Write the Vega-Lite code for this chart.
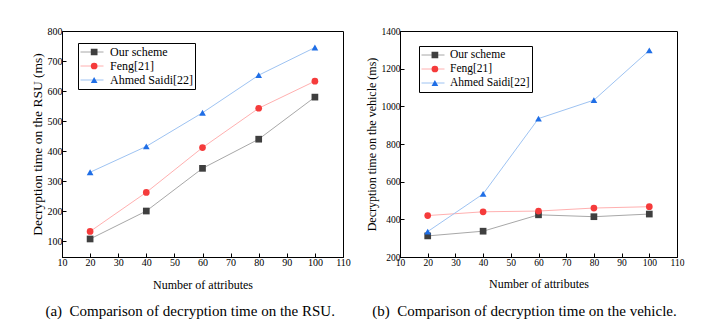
{
  "$schema": "https://vega.github.io/schema/vega-lite/v6.json",
  "background": "white",
  "padding": {"left": 29, "top": 25, "right": 5, "bottom": 5},
  "spacing": 13,
  "config": {
    "font": "Liberation Serif",
    "view": {"stroke": "black", "strokeWidth": 1},
    "axis": {
      "domainColor": "black",
      "tickColor": "black",
      "tickSize": -4,
      "labelColor": "black",
      "titleColor": "black",
      "titleFontWeight": "normal",
      "grid": false,
      "labelFont": "Liberation Serif",
      "titleFont": "Liberation Serif",
      "labelFlush": false,
      "labelOverlap": false,
      "labelPadding": 4,
      "titlePadding": 3
    },
    "legend": {
      "labelFont": "Liberation Serif",
      "labelColor": "black",
      "labelLimit": 0
    },
    "title": {"font": "Liberation Serif", "fontWeight": "normal", "color": "black"}
  },
  "resolve": {
    "scale": {"x": "independent", "y": "independent", "color": "independent", "stroke": "independent", "shape": "independent"},
    "legend": {"color": "independent", "stroke": "independent", "shape": "independent"}
  },
  "datasets": {
    "rsu": [
      {"n": 20, "scheme": "Our scheme", "t": 108},
      {"n": 40, "scheme": "Our scheme", "t": 201},
      {"n": 60, "scheme": "Our scheme", "t": 343},
      {"n": 80, "scheme": "Our scheme", "t": 440},
      {"n": 100, "scheme": "Our scheme", "t": 580},
      {"n": 20, "scheme": "Feng[21]", "t": 133},
      {"n": 40, "scheme": "Feng[21]", "t": 263},
      {"n": 60, "scheme": "Feng[21]", "t": 412},
      {"n": 80, "scheme": "Feng[21]", "t": 543},
      {"n": 100, "scheme": "Feng[21]", "t": 633},
      {"n": 20, "scheme": "Ahmed Saidi[22]", "t": 330},
      {"n": 40, "scheme": "Ahmed Saidi[22]", "t": 416},
      {"n": 60, "scheme": "Ahmed Saidi[22]", "t": 528},
      {"n": 80, "scheme": "Ahmed Saidi[22]", "t": 653},
      {"n": 100, "scheme": "Ahmed Saidi[22]", "t": 745}
    ],
    "veh": [
      {"n": 20, "scheme": "Our scheme", "t": 312},
      {"n": 40, "scheme": "Our scheme", "t": 337},
      {"n": 60, "scheme": "Our scheme", "t": 424},
      {"n": 80, "scheme": "Our scheme", "t": 414},
      {"n": 100, "scheme": "Our scheme", "t": 428},
      {"n": 20, "scheme": "Feng[21]", "t": 420},
      {"n": 40, "scheme": "Feng[21]", "t": 440},
      {"n": 60, "scheme": "Feng[21]", "t": 444},
      {"n": 80, "scheme": "Feng[21]", "t": 460},
      {"n": 100, "scheme": "Feng[21]", "t": 467},
      {"n": 20, "scheme": "Ahmed Saidi[22]", "t": 335},
      {"n": 40, "scheme": "Ahmed Saidi[22]", "t": 535},
      {"n": 60, "scheme": "Ahmed Saidi[22]", "t": 935},
      {"n": 80, "scheme": "Ahmed Saidi[22]", "t": 1033},
      {"n": 100, "scheme": "Ahmed Saidi[22]", "t": 1297}
    ]
  },
  "hconcat": [
    {
      "width": 281,
      "height": 226,
      "title": {"text": "(a)\u00a0 Comparison of decryption time on the RSU.", "orient": "bottom", "anchor": "middle", "frame": "bounds", "fontSize": 15, "offset": 14, "font": "Liberation Serif"},
      "data": {"name": "rsu"},
      "encoding": {
        "x": {"field": "n", "type": "quantitative", "scale": {"domain": [10, 110], "nice": false, "zero": false},
              "axis": {"values": [10, 20, 30, 40, 50, 60, 70, 80, 90, 100, 110], "title": "Number of attributes", "labelFontSize": 10, "titleFontSize": 12, "titlePadding": 12, "labelOverlap": false, "labelFont": "Liberation Serif", "titleFont": "Liberation Serif", "format": "d"}},
        "y": {"field": "t", "type": "quantitative", "scale": {"domain": [48, 800], "nice": false, "zero": false},
              "axis": {"values": [100, 200, 300, 400, 500, 600, 700, 800], "title": "Decryption time on the RSU (ms)", "labelFontSize": 10, "titleFontSize": 13.5, "labelOverlap": false, "labelFont": "Liberation Serif", "titleFont": "Liberation Serif", "format": "d"}}
      },
      "layer": [
        {
          "mark": {"type": "line", "strokeWidth": 1},
          "encoding": {
            "stroke": {"field": "scheme", "type": "nominal", "sort": ["Our scheme", "Feng[21]", "Ahmed Saidi[22]"],
                      "scale": {"range": ["#a8a8a8", "#ffb0b0", "#9ec3f2"]},
                      "legend": {"orient": "none", "legendX": 16, "legendY": 12, "title": null, "symbolType": "stroke", "symbolSize": 529, "symbolStrokeWidth": 1, "labelFontSize": 12, "labelFont": "Liberation Serif", "labelOffset": 6, "padding": 2, "rowPadding": 0, "clipHeight": 14, "strokeColor": "black"}}
          }
        },
        {
          "mark": {"type": "point", "filled": true, "opacity": 1, "size": 45},
          "encoding": {
            "color": {"field": "scheme", "type": "nominal",
                      "scale": {"domain": ["Our scheme", "Feng[21]", "Ahmed Saidi[22]"], "range": ["#3f3f3f", "#f53b3b", "#1f6ee6"]},
                      "legend": {"orient": "top-left", "offset": 12, "title": null, "labelFontSize": 12, "labelFont": "Liberation Serif", "labelOpacity": 0, "labelOffset": 6, "padding": 2, "rowPadding": 0, "clipHeight": 14, "symbolStrokeWidth": 0, "symbolSize": 45, "symbolOffset": 12.15, "symbolOpacity": 1}},
            "shape": {"field": "scheme", "type": "nominal",
                      "scale": {"domain": ["Our scheme", "Feng[21]", "Ahmed Saidi[22]"], "range": ["square", "circle", "triangle-up"]},
                      "legend": {"orient": "top-left", "offset": 12, "title": null, "labelFontSize": 12, "labelFont": "Liberation Serif", "labelOpacity": 0, "labelOffset": 6, "padding": 2, "rowPadding": 0, "clipHeight": 14, "symbolStrokeWidth": 0, "symbolSize": 45, "symbolOffset": 12.15, "symbolOpacity": 1}}
          }
        }
      ]
    },
    {
      "width": 277,
      "height": 226,
      "title": {"text": "(b)\u00a0 Comparison of decryption time on the vehicle.", "orient": "bottom", "anchor": "middle", "frame": "bounds", "fontSize": 15, "offset": 14, "font": "Liberation Serif"},
      "data": {"name": "veh"},
      "encoding": {
        "x": {"field": "n", "type": "quantitative", "scale": {"domain": [10, 110], "nice": false, "zero": false},
              "axis": {"values": [10, 20, 30, 40, 50, 60, 70, 80, 90, 100, 110], "title": "Number of attributes", "labelFontSize": 9.5, "titleFontSize": 12, "titlePadding": 12, "labelOverlap": false, "labelFont": "Liberation Serif", "titleFont": "Liberation Serif", "format": "d"}},
        "y": {"field": "t", "type": "quantitative", "scale": {"domain": [200, 1400], "nice": false, "zero": false},
              "axis": {"values": [200, 400, 600, 800, 1000, 1200, 1400], "title": "Decryption time on the vehicle (ms)", "labelFontSize": 9.5, "titleFontSize": 12, "labelOverlap": false, "labelFont": "Liberation Serif", "titleFont": "Liberation Serif", "format": "d"}}
      },
      "layer": [
        {
          "mark": {"type": "line", "strokeWidth": 1},
          "encoding": {
            "stroke": {"field": "scheme", "type": "nominal", "sort": ["Our scheme", "Feng[21]", "Ahmed Saidi[22]"],
                      "scale": {"range": ["#a8a8a8", "#ffb0b0", "#9ec3f2"]},
                      "legend": {"orient": "none", "legendX": 19, "legendY": 15, "title": null, "symbolType": "stroke", "symbolSize": 529, "symbolStrokeWidth": 1, "labelFontSize": 11.5, "labelFont": "Liberation Serif", "labelOffset": 5, "padding": 2, "rowPadding": 0, "clipHeight": 14, "strokeColor": "black"}}
          }
        },
        {
          "mark": {"type": "point", "filled": true, "opacity": 1, "size": 45},
          "encoding": {
            "color": {"field": "scheme", "type": "nominal",
                      "scale": {"domain": ["Our scheme", "Feng[21]", "Ahmed Saidi[22]"], "range": ["#3f3f3f", "#f53b3b", "#1f6ee6"]},
                      "legend": {"orient": "top-left", "offset": 15, "title": null, "labelFontSize": 11.5, "labelFont": "Liberation Serif", "labelOpacity": 0, "labelOffset": 5, "padding": 2, "rowPadding": 0, "clipHeight": 14, "symbolStrokeWidth": 0, "symbolSize": 45, "symbolOffset": 12.15, "symbolOpacity": 1}},
            "shape": {"field": "scheme", "type": "nominal",
                      "scale": {"domain": ["Our scheme", "Feng[21]", "Ahmed Saidi[22]"], "range": ["square", "circle", "triangle-up"]},
                      "legend": {"orient": "top-left", "offset": 15, "title": null, "labelFontSize": 11.5, "labelFont": "Liberation Serif", "labelOpacity": 0, "labelOffset": 5, "padding": 2, "rowPadding": 0, "clipHeight": 14, "symbolStrokeWidth": 0, "symbolSize": 45, "symbolOffset": 12.15, "symbolOpacity": 1}}
          }
        }
      ]
    }
  ]
}
